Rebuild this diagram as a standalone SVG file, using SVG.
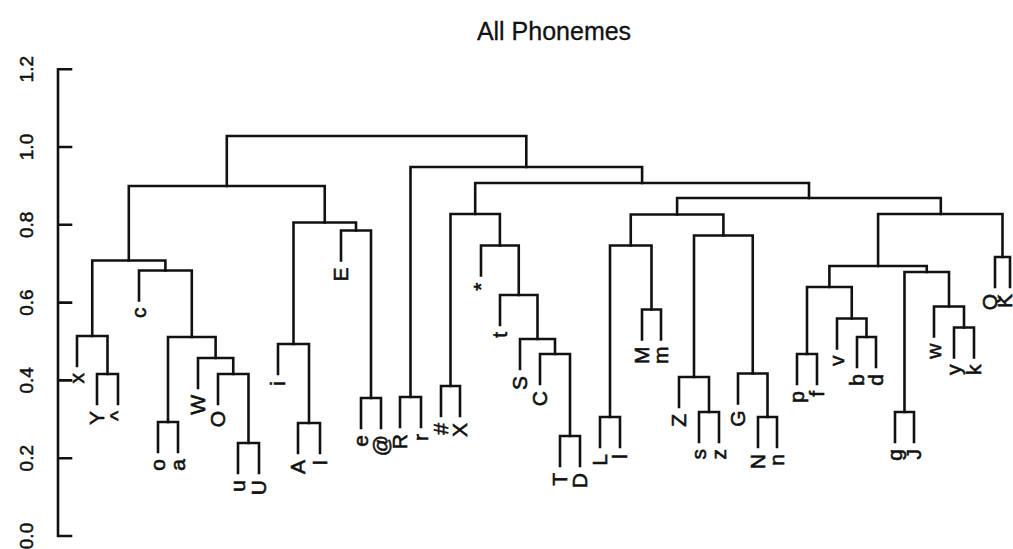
<svg xmlns="http://www.w3.org/2000/svg" width="1013" height="549" viewBox="0 0 1013 549">
  <style>
    .ln { fill: none; stroke: #111; stroke-width: 2.6; stroke-linejoin: miter; stroke-linecap: square; }
    .lab { font-family: "Liberation Sans", Arial, sans-serif; font-size: 21px; fill: #111; stroke: #111; stroke-width: 0.6; text-anchor: end; }
    .tick { font-family: "Liberation Sans", Arial, sans-serif; font-size: 19px; fill: #111; stroke: #111; stroke-width: 0.5; text-anchor: middle; }
    .title { font-family: "Liberation Sans", Arial, sans-serif; font-size: 25px; fill: #111; stroke: #111; stroke-width: 0.3; text-anchor: middle; }
  </style>
  <rect width="1013" height="549" fill="#fff"/>

  <text class="title" x="554" y="40">All Phonemes</text>

  <!-- height axis: 0.0 at y=536, 0.2 per 77.8 px -->
  <g id="axis">
    <path class="ln" d="M71 69.2 H58 V536 H71 M58 147 H71 M58 224.8 H71 M58 302.6 H71 M58 380.4 H71 M58 458.2 H71"/>
    <text class="tick" transform="translate(33,536) rotate(-90)">0.0</text>
    <text class="tick" transform="translate(33,458.2) rotate(-90)">0.2</text>
    <text class="tick" transform="translate(33,380.4) rotate(-90)">0.4</text>
    <text class="tick" transform="translate(33,302.6) rotate(-90)">0.6</text>
    <text class="tick" transform="translate(33,224.8) rotate(-90)">0.8</text>
    <text class="tick" transform="translate(33,147) rotate(-90)">1.0</text>
    <text class="tick" transform="translate(33,69.2) rotate(-90)">1.2</text>
  </g>

  <!-- merges: each path runs down to the left child, across the bar, down to the right child -->
  <g id="connectors">
    <path class="ln" d="M97 404 V374 H118 V404"/>
    <path class="ln" d="M77 366 V336 H107.5 V374"/>
    <path class="ln" d="M158 452 V422 H178 V452"/>
    <path class="ln" d="M238 473 V443 H259 V473"/>
    <path class="ln" d="M218 404 V374 H248.5 V443"/>
    <path class="ln" d="M198 388 V358 H233.25 V374"/>
    <path class="ln" d="M168 422 V337 H215.6 V358"/>
    <path class="ln" d="M139 300.5 V270.5 H191.8 V337"/>
    <path class="ln" d="M92.25 336 V260.5 H165.4 V270.5"/>
    <path class="ln" d="M298 453 V423 H320 V453"/>
    <path class="ln" d="M278 374 V344 H309 V423"/>
    <path class="ln" d="M361 428 V398 H381 V428"/>
    <path class="ln" d="M341 260.5 V230.5 H371 V398"/>
    <path class="ln" d="M293.5 344 V222.5 H356 V230.5"/>
    <path class="ln" d="M128.8 260.5 V186 H324.75 V222.5"/>
    <path class="ln" d="M400 427 V397 H421 V427"/>
    <path class="ln" d="M441 416 V386 H460 V416"/>
    <path class="ln" d="M560 466 V436 H580 V466"/>
    <path class="ln" d="M540 384 V354 H570 V436"/>
    <path class="ln" d="M520 369 V339 H555 V354"/>
    <path class="ln" d="M500 325 V295 H537.5 V339"/>
    <path class="ln" d="M481 275.5 V245.5 H518.75 V295"/>
    <path class="ln" d="M450.5 386 V214 H499.9 V245.5"/>
    <path class="ln" d="M600 447 V417 H620 V447"/>
    <path class="ln" d="M642 339.5 V309.5 H661 V339.5"/>
    <path class="ln" d="M610 417 V245.5 H651.5 V309.5"/>
    <path class="ln" d="M699 442 V412 H719 V442"/>
    <path class="ln" d="M679 407 V377 H709 V412"/>
    <path class="ln" d="M758 447 V417 H777 V447"/>
    <path class="ln" d="M738 403.5 V373.5 H767.5 V417"/>
    <path class="ln" d="M694 377 V235.5 H752.75 V373.5"/>
    <path class="ln" d="M630.75 245.5 V214.5 H723.4 V235.5"/>
    <path class="ln" d="M797 384 V354 H817 V384"/>
    <path class="ln" d="M857 367 V337 H876 V367"/>
    <path class="ln" d="M837 348.5 V318.5 H866.5 V337"/>
    <path class="ln" d="M807 354 V287 H851.75 V318.5"/>
    <path class="ln" d="M895 442 V412 H914 V442"/>
    <path class="ln" d="M954 357.5 V327.5 H974 V357.5"/>
    <path class="ln" d="M934 336.5 V306.5 H964 V327.5"/>
    <path class="ln" d="M904.5 412 V272 H949 V306.5"/>
    <path class="ln" d="M829.4 287 V266 H926.75 V272"/>
    <path class="ln" d="M995 287 V257 H1010 V287"/>
    <path class="ln" d="M878.1 266 V214 H1002.5 V257"/>
    <path class="ln" d="M677.1 214.5 V198 H940.8 V214"/>
    <path class="ln" d="M475.2 214 V183 H809 V198"/>
    <path class="ln" d="M410.5 397 V167 H642.1 V183"/>
    <path class="ln" d="M226.8 186 V136 H526.3 V167"/>
  </g>

  <!-- leaf labels, read bottom to top -->
  <g id="leaf-x"><text class="lab" transform="translate(77,373) rotate(-90)" dy="0.35em">x</text></g>
  <g id="leaf-Y"><text class="lab" transform="translate(97,411) rotate(-90)" dy="0.35em">Y</text></g>
  <g id="leaf-caret"><text class="lab" transform="translate(118,411) rotate(-90)" dy="0.35em">^</text></g>
  <g id="leaf-c"><text class="lab" transform="translate(139,307.5) rotate(-90)" dy="0.35em">c</text></g>
  <g id="leaf-o"><text class="lab" transform="translate(158,459) rotate(-90)" dy="0.35em">o</text></g>
  <g id="leaf-a"><text class="lab" transform="translate(178,459) rotate(-90)" dy="0.35em">a</text></g>
  <g id="leaf-W"><text class="lab" transform="translate(198,395) rotate(-90)" dy="0.35em">W</text></g>
  <g id="leaf-O"><text class="lab" transform="translate(218,411) rotate(-90)" dy="0.35em">O</text></g>
  <g id="leaf-u"><text class="lab" transform="translate(238,480) rotate(-90)" dy="0.35em">u</text></g>
  <g id="leaf-U"><text class="lab" transform="translate(259,480) rotate(-90)" dy="0.35em">U</text></g>
  <g id="leaf-i"><text class="lab" transform="translate(278,381) rotate(-90)" dy="0.35em">i</text></g>
  <g id="leaf-A"><text class="lab" transform="translate(298,460) rotate(-90)" dy="0.35em">A</text></g>
  <g id="leaf-I"><text class="lab" transform="translate(320,460) rotate(-90)" dy="0.35em">I</text></g>
  <g id="leaf-E"><text class="lab" transform="translate(341,267.5) rotate(-90)" dy="0.35em">E</text></g>
  <g id="leaf-e"><text class="lab" transform="translate(361,435) rotate(-90)" dy="0.35em">e</text></g>
  <g id="leaf-at"><text class="lab" transform="translate(381,435) rotate(-90)" dy="0.35em">@</text></g>
  <g id="leaf-R"><text class="lab" transform="translate(400,434) rotate(-90)" dy="0.35em">R</text></g>
  <g id="leaf-r"><text class="lab" transform="translate(421,434) rotate(-90)" dy="0.35em">r</text></g>
  <g id="leaf-hash"><text class="lab" transform="translate(441,423) rotate(-90)" dy="0.35em">#</text></g>
  <g id="leaf-X"><text class="lab" transform="translate(460,423) rotate(-90)" dy="0.35em">X</text></g>
  <g id="leaf-star"><text class="lab" transform="translate(481,282.5) rotate(-90)" dy="0.35em">*</text></g>
  <g id="leaf-t"><text class="lab" transform="translate(500,332) rotate(-90)" dy="0.35em">t</text></g>
  <g id="leaf-S"><text class="lab" transform="translate(520,376) rotate(-90)" dy="0.35em">S</text></g>
  <g id="leaf-C"><text class="lab" transform="translate(540,391) rotate(-90)" dy="0.35em">C</text></g>
  <g id="leaf-T"><text class="lab" transform="translate(560,473) rotate(-90)" dy="0.35em">T</text></g>
  <g id="leaf-D"><text class="lab" transform="translate(580,473) rotate(-90)" dy="0.35em">D</text></g>
  <g id="leaf-L"><text class="lab" transform="translate(600,454) rotate(-90)" dy="0.35em">L</text></g>
  <g id="leaf-l"><text class="lab" transform="translate(620,454) rotate(-90)" dy="0.35em">l</text></g>
  <g id="leaf-M"><text class="lab" transform="translate(642,346.5) rotate(-90)" dy="0.35em">M</text></g>
  <g id="leaf-m"><text class="lab" transform="translate(661,346.5) rotate(-90)" dy="0.35em">m</text></g>
  <g id="leaf-Z"><text class="lab" transform="translate(679,414) rotate(-90)" dy="0.35em">Z</text></g>
  <g id="leaf-s"><text class="lab" transform="translate(699,449) rotate(-90)" dy="0.35em">s</text></g>
  <g id="leaf-z"><text class="lab" transform="translate(719,449) rotate(-90)" dy="0.35em">z</text></g>
  <g id="leaf-G"><text class="lab" transform="translate(738,410.5) rotate(-90)" dy="0.35em">G</text></g>
  <g id="leaf-N"><text class="lab" transform="translate(758,454) rotate(-90)" dy="0.35em">N</text></g>
  <g id="leaf-n"><text class="lab" transform="translate(777,454) rotate(-90)" dy="0.35em">n</text></g>
  <g id="leaf-p"><text class="lab" transform="translate(797,391) rotate(-90)" dy="0.35em">p</text></g>
  <g id="leaf-f"><text class="lab" transform="translate(817,391) rotate(-90)" dy="0.35em">f</text></g>
  <g id="leaf-v"><text class="lab" transform="translate(837,355.5) rotate(-90)" dy="0.35em">v</text></g>
  <g id="leaf-b"><text class="lab" transform="translate(857,374) rotate(-90)" dy="0.35em">b</text></g>
  <g id="leaf-d"><text class="lab" transform="translate(876,374) rotate(-90)" dy="0.35em">d</text></g>
  <g id="leaf-g"><text class="lab" transform="translate(895,449) rotate(-90)" dy="0.35em">g</text></g>
  <g id="leaf-J"><text class="lab" transform="translate(914,449) rotate(-90)" dy="0.35em">J</text></g>
  <g id="leaf-w"><text class="lab" transform="translate(934,343.5) rotate(-90)" dy="0.35em">w</text></g>
  <g id="leaf-y"><text class="lab" transform="translate(954,364.5) rotate(-90)" dy="0.35em">y</text></g>
  <g id="leaf-k"><text class="lab" transform="translate(974,364.5) rotate(-90)" dy="0.35em">k</text></g>
  <g id="leaf-Q"><text class="lab" transform="translate(997,294) rotate(-90)">Q</text></g>
  <g id="leaf-K"><text class="lab" transform="translate(1012,294) rotate(-90)" font-size="18">K</text></g>
</svg>
